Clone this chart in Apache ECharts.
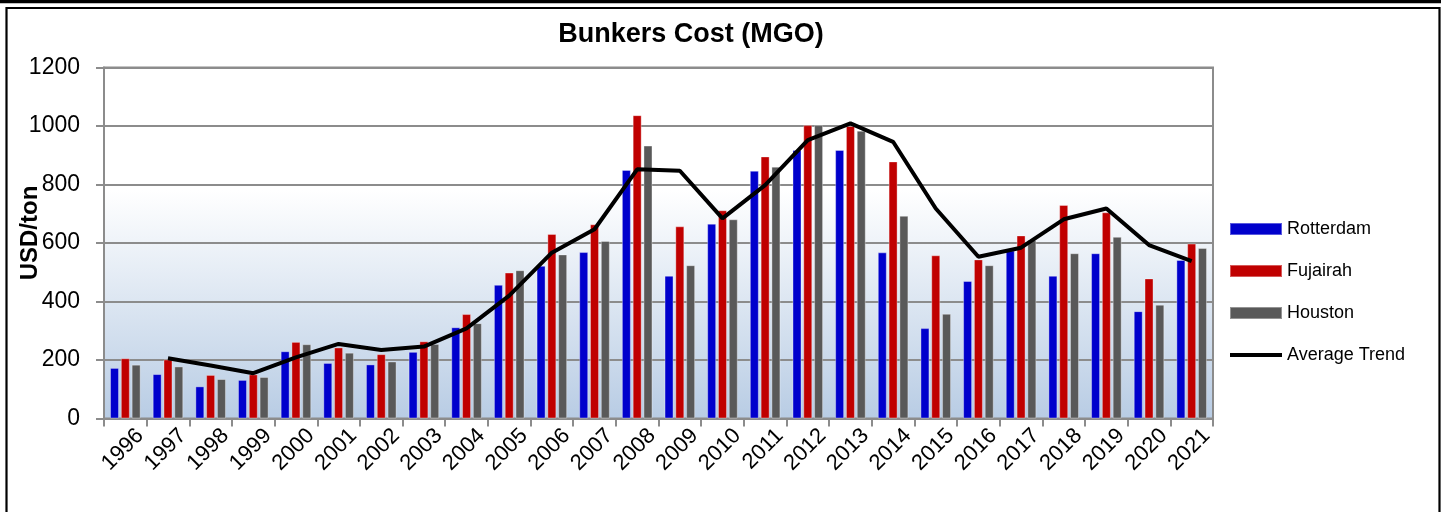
<!DOCTYPE html>
<html>
<head>
<meta charset="utf-8">
<script src="https://cdn.jsdelivr.net/npm/echarts@6/dist/echarts.min.js"></script>
<style>html,body{margin:0;padding:0;background:#fff;}#c{width:1446px;height:512px;}</style>
</head>
<body>
<div id="c"></div>
<script>
var years = ['1996','1997','1998','1999','2000','2001','2002','2003','2004','2005','2006','2007','2008','2009','2010','2011','2012','2013','2014','2015','2016','2017','2018','2019','2020','2021'];
var rotterdam = [173,152,110,132,230,190,185,228,312,457,522,569,850,488,666,847,918,918,568,309,470,574,488,565,367,542];
var fujairah = [206,202,149,151,262,243,220,264,357,499,631,664,1037,657,712,896,1003,1000,879,558,544,626,730,705,479,598];
var houston = [184,178,135,142,254,225,195,255,326,507,561,607,933,524,681,861,1003,984,693,358,524,610,565,621,389,583];
var averageTrend = ['-',206,181,155,209,255,234,246,308,420,567,647,852,847,684,798,952,1009,946,718,553,584,681,718,593,538];
var yTicks = [0,200,400,600,800,1000,1200];

var chart = echarts.init(document.getElementById('c'));
var font = 'Liberation Sans, Arial, sans-serif';
var barStyle = function(c){ return {color:c, borderColor:'rgba(255,255,255,0.35)', borderWidth:1}; };
chart.setOption({
  animation:false,
  textStyle:{fontFamily:font},
  title:{text:'Bunkers Cost (MGO)', left:691, top:21, textAlign:'center', padding:0,
    textStyle:{fontSize:27, fontWeight:'bold', color:'#000', fontFamily:font}},
  graphic:[
    {type:'rect', shape:{x:0,y:0,width:1441,height:3.3}, style:{fill:'#000'}, silent:true},
    {type:'rect', shape:{x:6.5,y:8,width:1433,height:530}, style:{fill:'none', stroke:'#000', lineWidth:2.2}, silent:true}
  ],
  legend:{orient:'vertical', left:1228, top:220, padding:0, itemWidth:52, itemHeight:12, itemGap:24,
    textStyle:{fontSize:18, lineHeight:18, color:'#000', fontFamily:font},
    data:[{name:'Rotterdam',icon:'rect'},{name:'Fujairah',icon:'rect'},{name:'Houston',icon:'rect'},
          {name:'Average Trend', itemStyle:{opacity:0}, lineStyle:{width:4, color:'#000'}}]},
  grid:{left:104, right:233, top:67.5, bottom:93.5, show:true, borderColor:'#8c8c8c', borderWidth:2,
    containLabel:false, outerBoundsMode:'none',
    backgroundColor:{type:'linear',x:0,y:0,x2:0,y2:1,colorStops:[{offset:0,color:'#ffffff'},{offset:0.35,color:'#ffffff'},{offset:1,color:'#b8cce4'}]}},
  xAxis:{type:'category', data:years, boundaryGap:true,
    axisLine:{lineStyle:{color:'#8c8c8c', width:2}},
    axisTick:{show:true, length:8, lineStyle:{color:'#8c8c8c', width:2}},
    axisLabel:{rotate:45, margin:-1, verticalAlign:'top', lineHeight:42, fontSize:22, color:'#000', fontFamily:font, interval:0}},
  yAxis:{type:'value', min:0, max:1200, interval:200,
    name:'USD/ton', nameLocation:'middle', nameRotate:90, nameGap:62, nameMoveOverlap:false,
    nameTextStyle:{fontSize:24, fontWeight:'bold', color:'#000', fontFamily:font, padding:[0,0,0,20]},
    axisLine:{show:true, lineStyle:{color:'#8c8c8c', width:2}},
    axisTick:{show:true, length:8, lineStyle:{color:'#8c8c8c', width:2}},
    splitLine:{lineStyle:{color:'#8c8c8c', width:2}},
    axisLabel:{margin:24, fontSize:23, color:'#000', fontFamily:font,
      formatter:function(v){ return yTicks.indexOf(v)>=0 ? String(v) : ''; }}},
  series:[
    {name:'Rotterdam', type:'bar', data:rotterdam, barWidth:9, barGap:'20%', itemStyle:barStyle('#0000cc')},
    {name:'Fujairah', type:'bar', data:fujairah, barWidth:9, barGap:'20%', itemStyle:barStyle('#c00000')},
    {name:'Houston', type:'bar', data:houston, barWidth:9, barGap:'20%', itemStyle:barStyle('#595959')},
    {name:'Average Trend', type:'line', data:averageTrend, symbol:'none', showSymbol:false,
      lineStyle:{color:'#000', width:4}, itemStyle:{color:'#000'}, z:5}
  ]
});
</script>
</body>
</html>
